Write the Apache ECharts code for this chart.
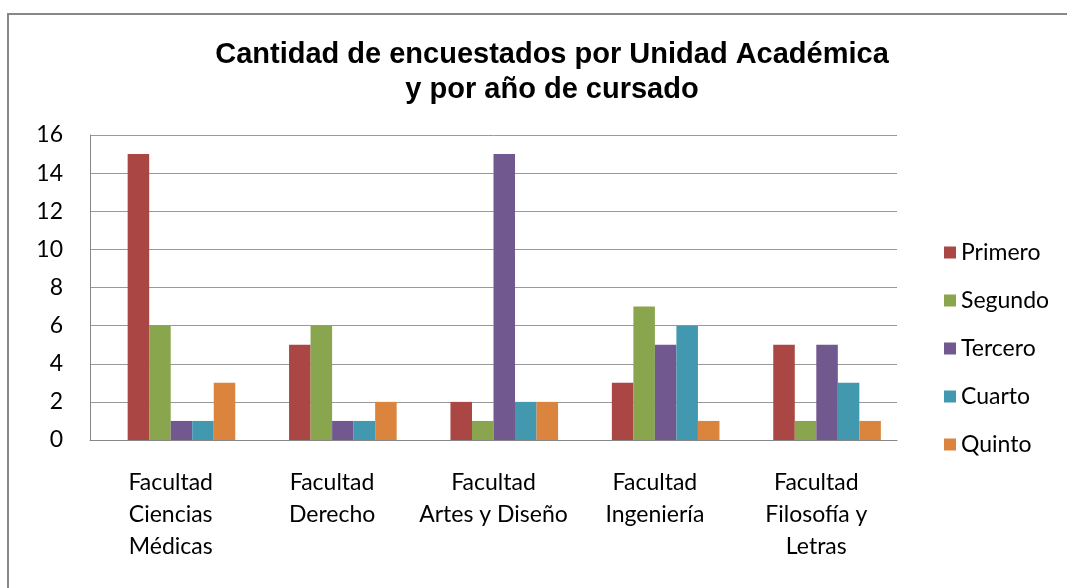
<!DOCTYPE html>
<html>
<head>
<meta charset="UTF-8">
<script src="https://cdn.jsdelivr.net/npm/echarts@6/dist/echarts.min.js"></script>
<style>
  html, body { margin: 0; padding: 0; background: #fff; }
  #chart { width: 1067px; height: 588px; }
</style>
</head>
<body>
<div id="chart"></div>
<script>
// Datos
const categories = [
  'Facultad\nCiencias\nMédicas',
  'Facultad\nDerecho',
  'Facultad\nArtes y Diseño',
  'Facultad\nIngeniería',
  'Facultad\nFilosofía y\nLetras'
];
const seriesNames = ['Primero', 'Segundo', 'Tercero', 'Cuarto', 'Quinto'];
const primero = [15, 5, 2, 3, 5];
const segundo = [6, 6, 1, 7, 1];
const tercero = [1, 1, 15, 5, 5];
const cuarto  = [1, 1, 2, 6, 3];
const quinto  = [3, 2, 2, 1, 1];
const colors = ['#AA4643', '#89A54E', '#71588F', '#4198AF', '#DB843D'];

const values = [primero, segundo, tercero, cuarto, quinto];

const chart = echarts.init(document.getElementById('chart'));

// serie vacía al inicio: en el original los grupos quedan un poco a la derecha de la etiqueta
const spacer = {
  name: '_',
  type: 'bar',
  data: ['-', '-', '-', '-', '-'],
  barGap: '0%',
  barCategoryGap: '20%',
  silent: true
};

const option = {
  animation: false,
  color: colors,
  title: {
    text: 'Cantidad de encuestados por Unidad Académica\ny por año de cursado',
    left: 547,
    top: 32,
    textAlign: 'center',
    textStyle: {
      fontFamily: 'Liberation Sans',
      fontWeight: 'bold',
      fontSize: 29,
      lineHeight: 35,
      color: '#000'
    }
  },
  graphic: [{
    type: 'polyline',
    shape: { points: [[1067, 14], [8, 14], [8, 588]] },
    style: { stroke: '#888', lineWidth: 2, fill: null }
  }],
  legend: {
    orient: 'vertical',
    left: 939,
    top: 236,
    itemWidth: 12,
    itemHeight: 12,
    itemGap: 25,
    icon: 'rect',
    data: seriesNames,
    textStyle: { fontFamily: 'Lato', fontSize: 23, color: '#000' }
  },
  grid: { left: 90, right: 170, top: 135, bottom: 148 },
  xAxis: {
    type: 'category',
    data: categories,
    axisLine: { lineStyle: { color: '#888', width: 1 } },
    axisTick: { show: false },
    axisLabel: {
      interval: 0,
      margin: 27,
      fontFamily: 'Lato',
      fontSize: 23,
      lineHeight: 32,
      color: '#000'
    }
  },
  yAxis: {
    type: 'value',
    min: 0,
    max: 16,
    interval: 2,
    axisLine: { show: true, lineStyle: { color: '#888' } },
    axisTick: { show: false },
    splitLine: { lineStyle: { color: '#999', width: 1 } },
    axisLabel: {
      margin: 27,
      fontFamily: 'Lato',
      fontSize: 23,
      color: '#000'
    }
  },
  series: [spacer].concat(seriesNames.map((name, i) => ({
    name: name,
    type: 'bar',
    data: values[i],
    barGap: '0%',
    barCategoryGap: '20%',
    itemStyle: { color: colors[i] }
  })))
};
chart.setOption(option);
</script>
</body>
</html>
